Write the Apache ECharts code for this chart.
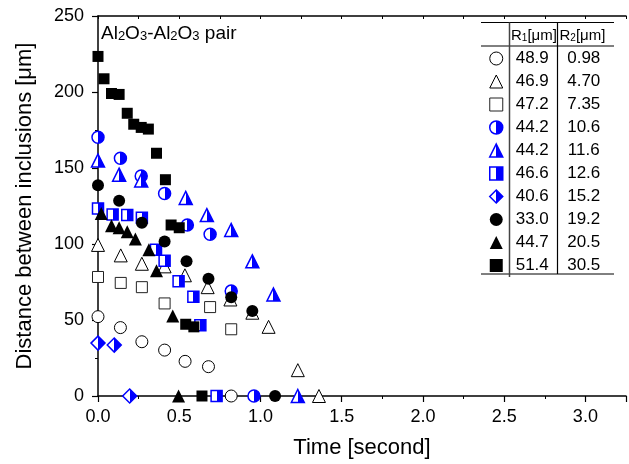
<!DOCTYPE html>
<html>
<head>
<meta charset="utf-8">
<script src="https://cdn.jsdelivr.net/npm/echarts@6/dist/echarts.min.js"></script>
<style>html,body{margin:0;padding:0;background:#fff}#c{width:629px;height:464px}</style>
</head>
<body>
<div id="c"></div>
<script>
// ---- data ----
const r1Values = ['48.9','46.9','47.2','44.2','44.2','46.6','40.6','33.0','44.7','51.4'];
const r2Values = ['0.98','4.70','7.35','10.6','11.6','12.6','15.2','19.2','20.5','30.5'];
const xTicks = ['0.0','0.5','1.0','1.5','2.0','2.5','3.0'];
const yTicks = ['0','50','100','150','200','250'];

const t1 = [0, 0.138, 0.27, 0.41, 0.536, 0.68, 0.82];
const v1 = [52.2, 45, 35.7, 30.2, 22.8, 19.3, 0];
const t2 = [0, 0.14, 0.27, 0.41, 0.535, 0.675, 0.815, 0.95, 1.05, 1.23, 1.36];
const v2 = [99.4, 92.5, 87, 85.3, 79.4, 71.6, 63.5, 54.8, 45.5, 17, 0];
const t3 = [0, 0.14, 0.27, 0.41, 0.69, 0.82];
const v3 = [78.3, 74.4, 71.6, 60.9, 58.5, 43.9];
const t4 = [0, 0.138, 0.266, 0.41, 0.55, 0.69, 0.82, 0.96];
const v4 = [170.2, 156.4, 144.7, 133.2, 112.5, 106.4, 69, 0];
const t5 = [0, 0.13, 0.266, 0.54, 0.67, 0.82, 0.95, 1.08, 1.23];
const v5 = [154.9, 145.6, 141.8, 130.3, 119, 109.2, 88.6, 66.8, 0];
const t6 = [0, 0.09, 0.18, 0.27, 0.357, 0.41, 0.496, 0.587, 0.63, 0.73];
const v6 = [123.4, 119.4, 119, 117.2, 96.2, 89, 75.5, 65.3, 46.5, 0];
const t7 = [0, 0.1, 0.195];
const v7 = [34.8, 33.5, 0];
const t8 = [0, 0.13, 0.27, 0.41, 0.545, 0.68, 0.82, 0.95, 1.09];
const v8 = [138.6, 128.4, 114, 101.6, 88.6, 77.2, 65, 55.9, 0];
const t9 = [0.02, 0.083, 0.13, 0.18, 0.23, 0.313, 0.36, 0.46, 0.496];
const v9 = [120, 112, 110.7, 108, 103.3, 96.2, 82.4, 52.7, 0];
const t10 = [0, 0.037, 0.083, 0.13, 0.18, 0.22, 0.266, 0.31, 0.36, 0.415, 0.45, 0.5, 0.54, 0.59, 0.64];
const v10 = [223.4, 208.7, 199, 198.4, 186, 178.8, 176.7, 175.6, 159.7, 142.3, 112.5, 110.7, 47.2, 45.5, 0];

const times = [t1,t2,t3,t4,t5,t6,t7,t8,t9,t10];
const values = [v1,v2,v3,v4,v5,v6,v7,v8,v9,v10];

// ---- styles ----
const FONT = 'Liberation Sans, Arial, sans-serif';
const BLUE = '#0000ff';
function half(c){
  return new echarts.graphic.LinearGradient(0,0,1,0,[
    {offset:0,color:'#ffffff'},{offset:0.5,color:'#ffffff'},
    {offset:0.5,color:c},{offset:1,color:c}]);
}
const styles = [
  {symbol:'circle', size:12, color:'#ffffff', border:'#000', bw:1},
  {symbol:'triangle', size:13, color:'#ffffff', border:'#000', bw:1},
  {symbol:'rect', size:11, color:'#ffffff', border:'#222', bw:1},
  {symbol:'circle', size:12, color:half(BLUE), border:BLUE, bw:1.5},
  {symbol:'triangle', size:13, color:half(BLUE), border:BLUE, bw:1.5},
  {symbol:'rect', size:11, color:half(BLUE), border:BLUE, bw:1.5},
  {symbol:'diamond', size:14, color:half(BLUE), border:BLUE, bw:1.5},
  {symbol:'circle', size:12, color:'#000', border:'#000', bw:0},
  {symbol:'triangle', size:13, color:'#000', border:'#000', bw:0},
  {symbol:'rect', size:11, color:'#000', border:'#000', bw:0}
];

const names = r1Values.map((r, i) => r + ' ' + r2Values[i]);

const series = names.map((nm, i) => ({
  name: nm,
  type: 'scatter',
  xAxisIndex: 0,
  symbol: styles[i].symbol,
  symbolSize: styles[i].size,
  itemStyle: {color: styles[i].color, borderColor: styles[i].border, borderWidth: styles[i].bw, opacity: 1},
  emphasis: {disabled: true},
  data: times[i].map((t, k) => [t, values[i][k]]),
  z: 3 + i
}));

const chart = echarts.init(document.getElementById('c'), null, {renderer: 'canvas'});

const tableLeft = 481, tableRight = 614;
const lineStyle = {stroke: '#000', lineWidth: 1};
const richTitle = {
  n: {fontSize: 19, fontFamily: FONT, color: '#000', lineHeight: 22, verticalAlign: 'bottom'},
  s: {fontSize: 13, fontFamily: FONT, color: '#000', lineHeight: 13, verticalAlign: 'bottom'}
};
const richHead = {
  n: {fontSize: 15, fontFamily: FONT, color: '#000', lineHeight: 17, verticalAlign: 'bottom'},
  s: {fontSize: 10, fontFamily: FONT, color: '#000', lineHeight: 10, verticalAlign: 'bottom'}
};

chart.setOption({
  animation: false,
  textStyle: {fontFamily: FONT},
  title: [
    {text: '{n|Al}{s|2}{n|O}{s|3}{n|-Al}{s|2}{n|O}{s|3}{n| pair}', left: 101, top: 21, padding: 0,
     textStyle: {fontSize: 19, fontFamily: FONT, fontWeight: 'normal', color: '#000', rich: richTitle}},
    {text: '{n|R}{s|1}{n|[μm]}', left: 511, top: 26, padding: 0,
     textStyle: {fontSize: 15, fontFamily: FONT, fontWeight: 'normal', color: '#000', rich: richHead}},
    {text: '{n|R}{s|2}{n|[μm]}', left: 559.5, top: 26, padding: 0,
     textStyle: {fontSize: 15, fontFamily: FONT, fontWeight: 'normal', color: '#000', rich: richHead}}
  ],
  grid: {left: 98, top: 16, right: -2, bottom: 65, containLabel: false},
  xAxis: [{
    type: 'value', min: 0, max: 3.25, interval: 0.5,
    name: 'Time [second]', nameLocation: 'middle', nameGap: 41,
    nameTextStyle: {fontSize: 22, color: '#000', fontFamily: FONT},
    axisLine: {show: true, onZero: false, lineStyle: {color: '#000', width: 1.5}},
    axisTick: {show: true, inside: false, length: 6, lineStyle: {color: '#000', width: 1.2}},
    minorTick: {show: true, splitNumber: 2, length: 3, lineStyle: {color: '#000', width: 1}},
    axisLabel: {fontSize: 18, color: '#000', margin: 12, fontFamily: FONT,
      formatter: v => { const i = Math.round(v / 0.5); return (Math.abs(v - i*0.5) < 1e-6 && i < xTicks.length) ? xTicks[i] : ''; }},
    splitLine: {show: false}
  }, {
    type: 'value', position: 'top', min: 0, max: 3.25, interval: 0.25,
    axisLine: {show: true, onZero: false, lineStyle: {color: '#000', width: 1.5}},
    axisTick: {show: true, inside: true, length: 3, lineStyle: {color: '#000', width: 1}},
    axisLabel: {show: false},
    splitLine: {show: false}
  }],
  yAxis: {
    type: 'value', min: 0, max: 250, interval: 50,
    name: 'Distance between inclusions [μm]', nameLocation: 'middle', nameGap: 62,
    nameTextStyle: {fontSize: 22, color: '#000', fontFamily: FONT},
    axisLine: {show: true, onZero: false, lineStyle: {color: '#000', width: 1.5}},
    axisTick: {show: true, inside: false, length: 6, lineStyle: {color: '#000', width: 1.2}},
    minorTick: {show: true, splitNumber: 2, length: 3, lineStyle: {color: '#000', width: 1}},
    axisLabel: {fontSize: 18, color: '#000', margin: 14, fontFamily: FONT,
      formatter: v => { const i = Math.round(v / 50); return (Math.abs(v - i*50) < 1e-6 && i < yTicks.length) ? yTicks[i] : ''; }},
    splitLine: {show: false}
  },
  legend: {
    orient: 'vertical', left: 489, top: 50, padding: 0,
    itemWidth: 13, itemHeight: 13, itemGap: 6,
    selectedMode: false,
    itemStyle: {borderWidth: 1},
    data: names.map((nm, i) => ({name: nm, itemStyle: {borderWidth: styles[i].bw || 0}})),
    formatter: nm => { const i = names.indexOf(nm); return '{a|' + r1Values[i] + '}{b|' + r2Values[i] + '}'; },
    textStyle: {
      fontFamily: FONT, fontSize: 17, color: '#000', lineHeight: 13,
      rich: {
        a: {width: 49, align: 'center', fontSize: 17, fontFamily: FONT, color: '#000', lineHeight: 13},
        b: {width: 54, align: 'center', fontSize: 17, fontFamily: FONT, color: '#000', lineHeight: 13}
      }
    }
  },
  graphic: [
    {type: 'line', z: 10, shape: {x1: tableLeft, y1: 22.5, x2: tableRight, y2: 22.5}, style: lineStyle},
    {type: 'line', z: 10, shape: {x1: tableLeft, y1: 46, x2: tableRight, y2: 46}, style: lineStyle},
    {type: 'line', z: 10, shape: {x1: tableLeft, y1: 274, x2: tableRight, y2: 274}, style: lineStyle},
    {type: 'line', z: 10, shape: {x1: 509.5, y1: 22.5, x2: 509.5, y2: 277}, style: {stroke: '#444', lineWidth: 1.5}},
    {type: 'line', z: 10, shape: {x1: 557.5, y1: 22.5, x2: 557.5, y2: 274}, style: {stroke: '#000', lineWidth: 1.2}}
  ],
  series: series
});
</script>
</body>
</html>
